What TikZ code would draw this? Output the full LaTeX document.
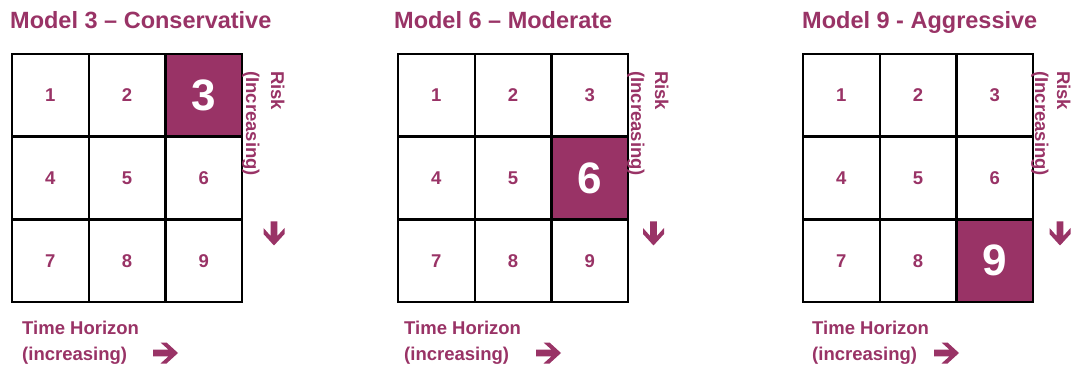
\documentclass[tikz,border=0pt]{standalone}
\usepackage{fontspec}
\setmainfont{Liberation Sans}
\definecolor{plum}{RGB}{153,51,102}
\begin{document}
\begin{tikzpicture}[x=1pt,y=-1pt,
  cell/.style={draw=black, line width=2.4pt, minimum width=76.7pt, minimum height=82.7pt,
    inner sep=0pt, text=plum, font=\fontsize{18.5}{20}\selectfont\bfseries, anchor=center},
  hot/.style={fill=plum, text=white, font=\fontsize{44}{48}\selectfont\bfseries},
  titletext/.style={anchor=base west, inner sep=0pt, text=plum, font=\fontsize{23.5}{26}\selectfont\bfseries},
  label/.style={anchor=base west, inner sep=0pt, text=plum, font=\fontsize{18.5}{20}\selectfont\bfseries},
  risklabel/.style={label, rotate=-90},
  arrowfill/.style={fill=plum, draw=none}]
\useasboundingbox (0,0) rectangle (1071,366);
\foreach \p/\ox/\tx/\title/\hl/\rb/\ib/\dx/\hx/\ax in {
  1/12/10/{Model 3 – Conservative}/3/271/246/274/22/165.5,
  2/398/394/{Model 6 – Moderate}/6/655/631/653.5/404/548.5,
  3/803/802/{Model 9 - Aggressive}/9/1057/1035/1060/812/946.5}{
  \node[titletext] (title\p) at (\tx,29) {\title};
  \foreach \r in {0,1,2}{
    \foreach \c in {1,2,3}{
      \pgfmathtruncatemacro{\n}{3*\r+\c}
      \ifnum\n=\hl
        \node[cell,hot] (p\p-c\n) at ({\ox+76.7*(\c-0.5)},{54+82.7*(\r+0.5)}) {\n};
      \else
        \node[cell] (p\p-c\n) at ({\ox+76.7*(\c-0.5)},{54+82.7*(\r+0.5)}) {\n};
      \fi
    }
  }
  \node[risklabel] (risk\p) at (\rb,71) {Risk};
  \node[risklabel] (inc\p) at (\ib,71) {(Increasing)};
  \node[label] (th\p) at (\hx,334) {Time Horizon};
  \node[label] (ti\p) at (\hx,360) {(increasing)};
  % down arrow
  \fill[arrowfill, shift={(\dx,221.5)}] (-3.4,0) -- (-3.4,14.4) -- (-10.5,6.5) -- (-10.5,12.5) -- (0,24)
     -- (10.5,12.5) -- (10.5,6.5) -- (3.4,14.4) -- (3.4,0) -- cycle;
  % right arrow
  \fill[arrowfill, shift={(\ax-12.5,353)}] (0,-3.4) -- (15.4,-3.4) -- (7.5,-10.5) -- (13.5,-10.5) -- (25,0)
     -- (13.5,10.5) -- (7.5,10.5) -- (15.4,3.4) -- (0,3.4) -- cycle;
}
\end{tikzpicture}
\end{document}
